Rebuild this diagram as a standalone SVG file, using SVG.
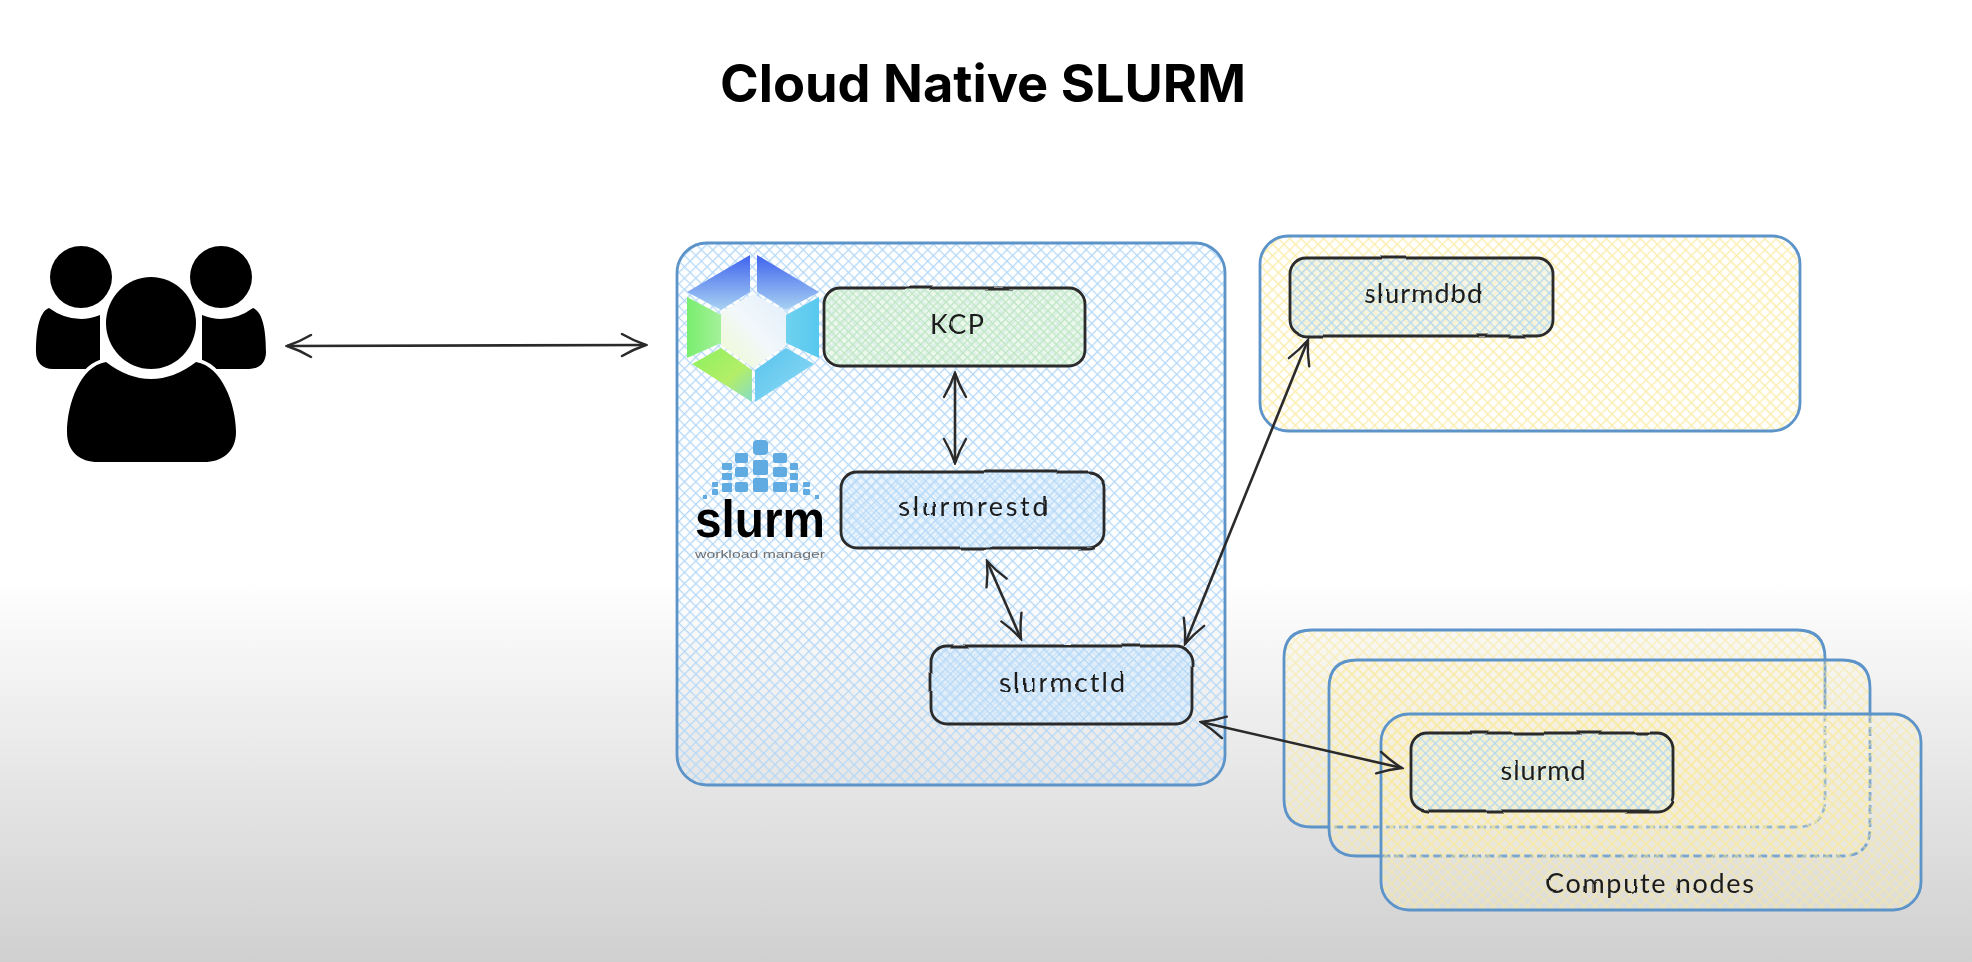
<svg xmlns="http://www.w3.org/2000/svg" width="1972" height="962" viewBox="0 0 1972 962">
<style>
.lbl{font-family:"Lato","Liberation Sans",sans-serif;font-size:27px;fill:#1c1c1c;text-anchor:middle;filter:url(#roughT)}
.inner{stroke:#2a2a2a;stroke-width:2.8;fill:none;filter:url(#rough)}
.outer{stroke:#5c93c9;stroke-width:2.8;fill:none}
.edge{fill:none;stroke:#2a2a2a;stroke-width:2.6;marker-start:url(#head);marker-end:url(#head)}
.blk{fill:#000;stroke:#fff;stroke-width:7;paint-order:stroke}
.sq{fill:#5fabe2}
</style>
<defs>
<linearGradient id="bg" x1="0" y1="0" x2="0" y2="1"><stop offset="0.6" stop-color="#fff"/><stop offset="0.74" stop-color="#eeeeee"/><stop offset="1" stop-color="#d0d0d0"/></linearGradient>
<pattern id="hBlue" width="8" height="8" patternUnits="userSpaceOnUse" patternTransform="rotate(45)"><path d="M0 0H8M0 0V8" stroke="#b4d8f7" stroke-width="2.6" fill="none"/></pattern>
<pattern id="hBlueDense" width="7" height="7" patternUnits="userSpaceOnUse" patternTransform="rotate(45)"><rect width="7" height="7" fill="#dcedfb" fill-opacity=".6"/><path d="M0 0H7M0 0V7" stroke="#b4d8f7" stroke-width="2.6" fill="none"/></pattern>
<pattern id="hBlueOnY" width="7" height="7" patternUnits="userSpaceOnUse" patternTransform="rotate(45)"><rect width="7" height="7" fill="#f4f1d8" fill-opacity=".7"/><path d="M0 0H7M0 0V7" stroke="#b4d8ee" stroke-width="2.6" fill="none"/></pattern>
<pattern id="hGreen" width="6" height="6" patternUnits="userSpaceOnUse" patternTransform="rotate(45)"><rect width="6" height="6" fill="#e6f6e4" fill-opacity=".7"/><path d="M0 0H6M0 0V6" stroke="#bde6c2" stroke-width="2.4" fill="none"/></pattern>
<pattern id="hYellow" width="8" height="8" patternUnits="userSpaceOnUse" patternTransform="rotate(45)"><path d="M0 0H8M0 0V8" stroke="#fbeeb0" stroke-width="2.8" fill="none"/></pattern>
<pattern id="hYellowT" width="8" height="8" patternUnits="userSpaceOnUse" patternTransform="rotate(45)"><rect width="8" height="8" fill="#fdf6d8" fill-opacity=".2"/><path d="M0 0H8M0 0V8" stroke="#f8e89a" stroke-width="2.8" stroke-opacity=".6" fill="none"/></pattern>
<filter id="soft" x="-5%" y="-5%" width="110%" height="110%"><feGaussianBlur stdDeviation="0.55"/></filter>
<filter id="rough" x="-5%" y="-10%" width="110%" height="120%"><feTurbulence type="fractalNoise" baseFrequency="0.018" numOctaves="2" seed="4"/><feDisplacementMap in="SourceGraphic" scale="3"/><feGaussianBlur stdDeviation="0.45"/></filter>
<filter id="roughT" x="-5%" y="-10%" width="110%" height="120%"><feTurbulence type="fractalNoise" baseFrequency="0.05" numOctaves="2" seed="7"/><feDisplacementMap in="SourceGraphic" scale="2.5"/><feGaussianBlur stdDeviation="0.35"/></filter>
<marker id="head" viewBox="0 0 30 26" refX="28" refY="13" markerWidth="30" markerHeight="26" markerUnits="userSpaceOnUse" orient="auto-start-reverse"><path d="M4 2Q16 9 28 13Q16 17 4 24" fill="none" stroke="#2a2a2a" stroke-width="2.4" stroke-linecap="round"/></marker>
<linearGradient id="gTop" x1="0" y1="0" x2="0" y2="1"><stop offset="0" stop-color="#3f63ee"/><stop offset="1" stop-color="#a8d2f2"/></linearGradient>
<linearGradient id="gRight" x1="1" y1="0" x2="0" y2="0"><stop offset="0" stop-color="#58c8ee"/><stop offset="1" stop-color="#6fd2f0"/></linearGradient>
<linearGradient id="gBR" x1="0" y1="0" x2="1" y2="1"><stop offset="0" stop-color="#58c2ee"/><stop offset="1" stop-color="#8fdcf4"/></linearGradient>
<linearGradient id="gBL" x1="0" y1="0" x2="1" y2="1"><stop offset="0" stop-color="#8cf060"/><stop offset="0.6" stop-color="#b3ee68"/><stop offset="1" stop-color="#86dcc8"/></linearGradient>
<linearGradient id="gLeft" x1="0" y1="0" x2="1" y2="0"><stop offset="0" stop-color="#79ee6e"/><stop offset="1" stop-color="#a5f09a"/></linearGradient>
<linearGradient id="gCore" x1="0" y1="1" x2="1" y2="0"><stop offset="0" stop-color="#eefacc"/><stop offset="0.5" stop-color="#f2f8fb"/><stop offset="1" stop-color="#e2eefb"/></linearGradient>
</defs>

<rect width="1972" height="962" fill="url(#bg)"/>

<text id="title" x="983" y="102" font-family="Inter,'Liberation Sans',sans-serif" font-weight="700" font-size="52" fill="#000" text-anchor="middle" textLength="526" lengthAdjust="spacingAndGlyphs">Cloud Native SLURM</text>

<g id="users">
<circle cx="81" cy="277" r="31" fill="#000"/>
<circle cx="221" cy="277" r="31" fill="#000"/>
<path fill="#000" d="M49 308Q64 319 81 319Q90 319 100 315L100 369H53C42 369 36 362 36 352C36 335 38 312 49 308Z"/>
<path fill="#000" d="M253 308Q238 319 221 319Q212 319 202 315L202 369H249C260 369 266 362 266 352C266 335 264 312 253 308Z"/>
<ellipse class="blk" cx="151" cy="323" rx="45" ry="46"/>
<path class="blk" d="M106 362Q128 379 151 379Q174 379 196 362C222 366 236 405 236 432C236 452 222 462 204 462H98C80 462 67 452 67 432C67 405 80 366 106 362Z"/>
</g>

<g id="cloud-native">
<rect x="677" y="243" width="548" height="542" rx="30" fill="url(#hBlue)" filter="url(#soft)"/>
<rect class="outer" x="677" y="243" width="548" height="542" rx="30"/>
</g>

<g id="kcp-logo" filter="url(#soft)">
<polygon points="750,255 687,292 721,310 750,292" fill="url(#gTop)"/>
<polygon points="757,255 819,292 786,310 757,292" fill="url(#gTop)"/>
<polygon points="687,297 721,315 721,343 687,358" fill="url(#gLeft)"/>
<polygon points="819,297 786,315 786,343 819,358" fill="url(#gRight)"/>
<polygon points="692,364 721,348 752,370 752,402" fill="url(#gBL)"/>
<polygon points="814,364 786,348 755,370 755,402" fill="url(#gBR)"/>
<polygon points="753,294 786,312 786,345 753,368 721,345 721,312" fill="url(#gCore)"/>
</g>

<g id="slurm-logo">
<g class="sq" filter="url(#soft)">
<rect x="753" y="440" width="15" height="15" rx="4"/><rect x="753" y="460" width="15" height="15" rx="2"/><rect x="753" y="478" width="15" height="14" rx="2"/>
<rect x="735" y="453" width="13" height="10" rx="2"/><rect x="735" y="467" width="13" height="10" rx="2"/><rect x="735" y="482" width="13" height="10" rx="2"/>
<rect x="773" y="453" width="14" height="10" rx="2"/><rect x="773" y="467" width="14" height="10" rx="2"/><rect x="773" y="482" width="14" height="10" rx="2"/>
<rect x="722" y="463" width="10" height="7" rx="1"/><rect x="722" y="473" width="10" height="7" rx="1"/><rect x="722" y="483" width="10" height="9" rx="1"/>
<rect x="790" y="463" width="8" height="7" rx="1"/><rect x="790" y="473" width="8" height="7" rx="1"/><rect x="790" y="483" width="8" height="9" rx="1"/>
<rect x="712" y="482" width="6" height="5" rx="1"/><rect x="712" y="489" width="6" height="6" rx="1"/><rect x="803" y="482" width="7" height="5" rx="1"/><rect x="803" y="489" width="7" height="6" rx="1"/>
<rect x="703" y="495" width="4" height="4"/><rect x="815" y="495" width="4" height="4"/>
</g>
<text x="695" y="537" font-family="'Liberation Sans',sans-serif" font-weight="700" font-size="52" fill="#000" textLength="130" lengthAdjust="spacingAndGlyphs">slurm</text>
<text x="695" y="558" font-family="'Liberation Sans',sans-serif" font-size="10" fill="#6f6f6f" textLength="130" lengthAdjust="spacingAndGlyphs" filter="url(#soft)">workload manager</text>
</g>

<g id="kcp">
<rect x="824" y="288" width="261" height="78" rx="16" fill="url(#hGreen)" filter="url(#soft)"/>
<rect class="inner" x="824" y="288" width="261" height="78" rx="16"/>
<text class="lbl" x="957" y="334" textLength="54">KCP</text>
</g>
<g id="slurmrestd">
<rect x="841" y="472" width="263" height="76" rx="16" fill="url(#hBlueDense)" filter="url(#soft)"/>
<rect class="inner" x="841" y="472" width="263" height="76" rx="16"/>
<text class="lbl" x="973" y="516" textLength="149">slurmrestd</text>
</g>
<g id="slurmctld">
<rect x="931" y="646" width="261" height="78" rx="16" fill="url(#hBlueDense)" filter="url(#soft)"/>
<rect class="inner" x="931" y="646" width="261" height="78" rx="16"/>
<text class="lbl" x="1062" y="692" textLength="126">slurmctld</text>
</g>

<g id="slurmdbd-host">
<rect x="1260" y="236" width="540" height="195" rx="28" fill="url(#hYellow)" filter="url(#soft)"/>
<rect class="outer" x="1260" y="236" width="540" height="195" rx="28"/>
</g>
<g id="slurmdbd">
<rect x="1290" y="258" width="263" height="78" rx="16" fill="url(#hBlueOnY)" filter="url(#soft)"/>
<rect class="inner" x="1290" y="258" width="263" height="78" rx="16"/>
<text class="lbl" x="1423" y="303" textLength="118">slurmdbd</text>
</g>

<g id="compute-a">
<rect x="1284" y="630" width="541" height="197" rx="28" fill="url(#hYellowT)" filter="url(#soft)"/>
<path class="outer" d="M1329 827H1312Q1284 827 1284 799V658Q1284 630 1312 630H1797Q1825 630 1825 658V700"/>
<path class="outer" stroke-dasharray="9 4" d="M1825 700V799Q1825 827 1797 827H1329"/>
</g>
<g id="compute-b">
<rect x="1329" y="660" width="541" height="196" rx="28" fill="url(#hYellowT)" filter="url(#soft)"/>
<path class="outer" d="M1381 856H1357Q1329 856 1329 828V688Q1329 660 1357 660H1842Q1870 660 1870 688V714"/>
<path class="outer" stroke-dasharray="9 4" d="M1870 714V828Q1870 856 1842 856H1381"/>
</g>
<g id="compute-c">
<rect x="1381" y="714" width="540" height="196" rx="28" fill="url(#hYellowT)" filter="url(#soft)"/>
<rect class="outer" x="1381" y="714" width="540" height="196" rx="28"/>
<text class="lbl" x="1650" y="893" textLength="208">Compute nodes</text>
</g>
<g id="slurmd">
<rect x="1411" y="733" width="262" height="78" rx="16" fill="url(#hBlueOnY)" filter="url(#soft)"/>
<rect class="inner" x="1411" y="733" width="262" height="78" rx="16"/>
<text class="lbl" x="1543" y="780" textLength="85">slurmd</text>
</g>

<g id="connectors">
<path class="edge" d="M287 346L646 345"/>
<path class="edge" d="M955 373L955 463"/>
<path class="edge" d="M987 561L1021 639"/>
<path class="edge" d="M1185 644L1308 340"/>
<path class="edge" d="M1201 722L1402 768"/>
</g>
</svg>
